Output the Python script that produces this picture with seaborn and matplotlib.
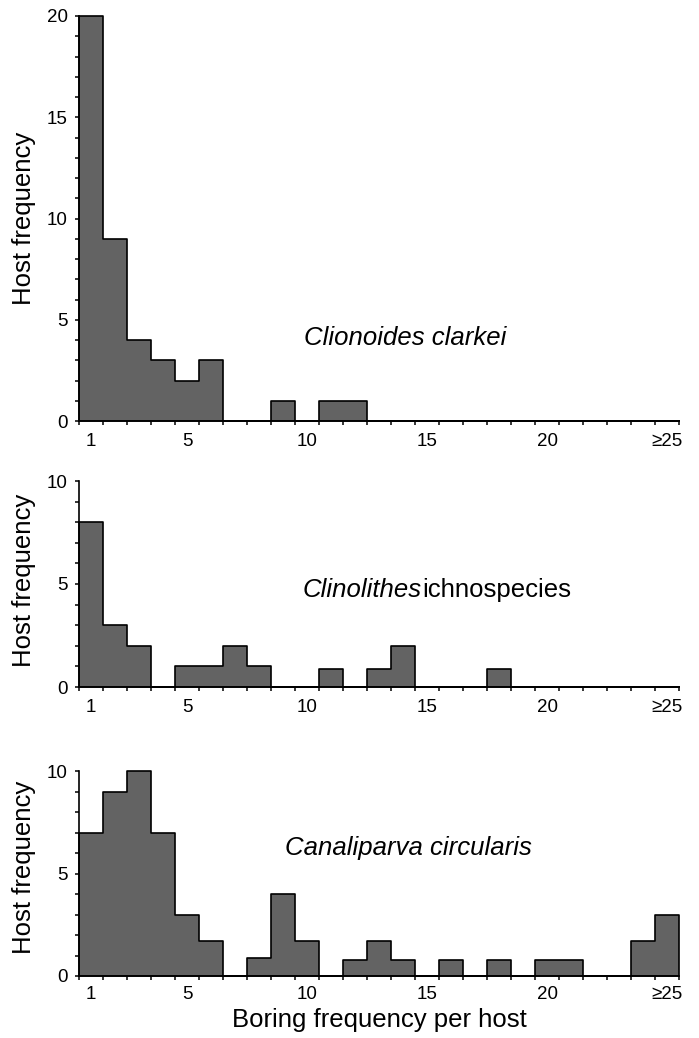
import numpy as np
import pandas as pd
import matplotlib
matplotlib.use("Agg")
import matplotlib.pyplot as plt
import seaborn as sns

# ---- data ----
bins = list(range(1, 26))
clionoides = [20, 9, 4, 3, 2, 3, 0, 0, 1, 0, 1, 1, 0, 0, 0, 0, 0, 0, 0, 0, 0, 0, 0, 0, 0]
clinolithes = [8, 3, 2, 0, 1, 1, 2, 1, 0, 0, 0.85, 0, 0.85, 2, 0, 0, 0, 0.85, 0, 0, 0, 0, 0, 0, 0]
canaliparva = [7, 9, 10, 7, 3, 1.7, 0, 0.9, 4, 1.7, 0, 0.8, 1.7, 0.8, 0, 0.8, 0, 0.8, 0, 0.8, 0.8, 0, 0, 1.7, 3]
xtick_vals = [1, 5, 10, 15, 20, 25]
xtick_labels = ["1", "5", "10", "15", "20", "\u226525"]
ymax = [20, 10, 10]
ymajor = [[0, 5, 10, 15, 20], [0, 5, 10], [0, 5, 10]]

sns.set_style("white")
plt.rcParams["font.family"] = ["Liberation Sans", "DejaVu Sans"]
plt.rcParams["text.color"] = "black"
plt.rcParams["axes.labelcolor"] = "black"
plt.rcParams["xtick.color"] = "black"
plt.rcParams["ytick.color"] = "black"

fig = plt.figure(figsize=(6.99, 10.38), dpi=100)
W, H = 699, 1038

def add_ax(left, top, right, bottom):
    return fig.add_axes([left / W, 1 - bottom / H, (right - left) / W, (bottom - top) / H])

axes = [add_ax(79, 16, 679, 421), add_ax(79, 481, 679, 687), add_ax(79, 771, 679, 976)]
series = [clionoides, clinolithes, canaliparva]

for i, (ax, vals) in enumerate(zip(axes, series)):
    df = pd.DataFrame({"bin": bins, "count": vals})
    sns.histplot(data=df, x="bin", weights="count", discrete=True, element="step",
                 fill=True, color="#636363", alpha=1, edgecolor="black",
                 linewidth=1.2, clip_on=False, ax=ax)
    ax.set_xlim(0.5, 25.5)
    ax.set_ylim(0, ymax[i])
    for s in ["top", "right"]:
        ax.spines[s].set_visible(False)
    for s in ["left", "bottom"]:
        ax.spines[s].set_linewidth(1.2)
        ax.spines[s].set_color("black")
    # x: ticks on bin edges, labels at bin centres
    edges = np.arange(0.5, 26, 1.0)
    ax.set_xticks(edges, labels=[""] * len(edges))
    ax.set_xticks(xtick_vals, labels=xtick_labels, minor=True)
    ax.tick_params(axis="x", which="major", direction="out", length=3, width=1.1,
                   color="black", bottom=True)
    ax.tick_params(axis="x", which="minor", length=0, pad=9 if i < 2 else 7,
                   labelsize=13.5, labelcolor="black", bottom=True)
    # y: ticks every unit, labels every 5
    ax.set_yticks(ymajor[i])
    ax.set_yticks(np.arange(0, ymax[i] + 1, 1), minor=True)
    ax.tick_params(axis="y", which="both", direction="out", length=3, width=1.1,
                   color="black", left=True, labelsize=13.5, labelcolor="black", pad=5)
    ax.set_xlabel("")
    ax.set_ylabel("Host frequency", fontsize=18.5, color="black")
    ax.yaxis.set_label_coords(-0.072, 0.5 if i == 0 else (0.52 if i == 1 else 0.53))

axes[0].text(9.875, 4.1, "Clionoides clarkei", style="italic", fontsize=18.5,
             ha="left", va="center", color="black")
t1 = axes[1].text(9.83, 4.7, "Clinolithes", style="italic", fontsize=18.5,
                  ha="left", va="center", color="black")
axes[1].annotate("ichnospecies", xy=(1, 0), xycoords=t1, ha="left", va="bottom",
                 fontsize=18.5, color="black")
axes[2].text(9.08, 6.24, "Canaliparva circularis", style="italic", fontsize=18.5,
             ha="left", va="center", color="black")
axes[2].set_xlabel("Boring frequency per host", fontsize=18.5, labelpad=4, color="black")

fig.savefig("out.png", dpi=100)
